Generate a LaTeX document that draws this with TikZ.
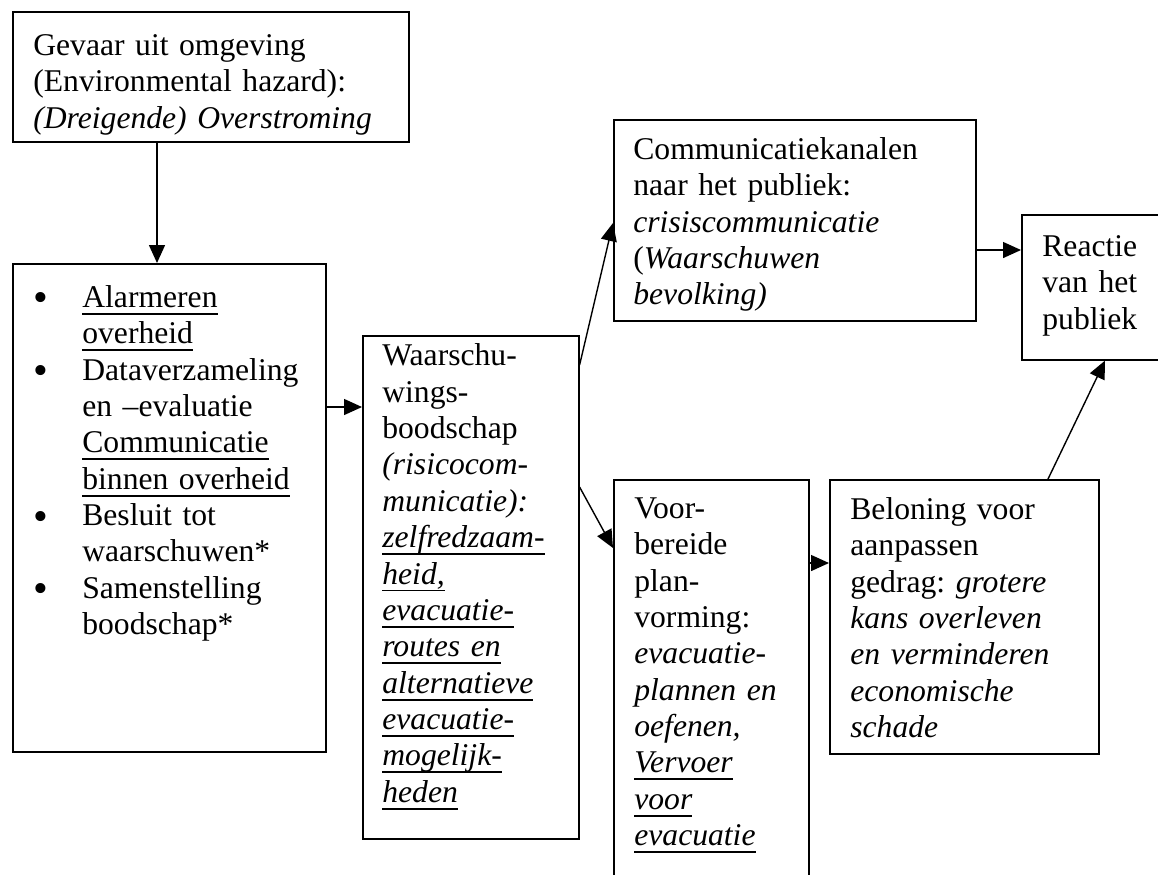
\documentclass[tikz,border=0pt]{standalone}
\usepackage{fontspec}
\setmainfont{Liberation Serif}
\usetikzlibrary{arrows.meta}
\frenchspacing
\newcommand{\bul}{\leavevmode\llap{\raisebox{-2.6pt}{\fontsize{24}{24}\selectfont\textbullet}\hspace{0.69cm}}}
\newcommand{\undl}[1]{\leavevmode\setbox0\hbox{#1}\rlap{\rule[-4.2pt]{\wd0}{1.1pt}}\box0}
\tikzset{
	box/.style={draw, line width=0.9pt, inner sep=0pt, anchor=north west},
	txt/.style={anchor=north west, inner sep=0pt, align=left, font=\fontsize{18}{20.7}\selectfont, execute at begin node=\strut},
	arr/.style={line width=0.8pt, -{Triangle[length=0.36cm,width=0.32cm]}}
}
\begin{document}
\begin{tikzpicture}
	\useasboundingbox (0,0) rectangle (23.16,-17.48);
	% boxes
	\node[box, minimum width=7.92cm, minimum height=2.60cm] (B1) at (0.24,-0.22) {};
	\node[box, minimum width=6.26cm, minimum height=9.76cm] (B2) at (0.24,-5.26) {};
	\node[box, minimum width=4.32cm, minimum height=10.06cm] (B3) at (7.24,-6.70) {};
	\node[box, minimum width=7.24cm, minimum height=4.02cm] (B4) at (12.26,-2.38) {};
	\node[box, minimum width=3.90cm, minimum height=8.60cm] (B5) at (12.26,-9.58) {};
	\node[box, minimum width=5.38cm, minimum height=5.48cm] (B6) at (16.58,-9.58) {};
	\node[box, minimum width=2.90cm, minimum height=2.90cm] (B7) at (20.42,-4.28) {};
	% texts
	\node[txt, text width=7.3cm] (T1) at ([shift={(0.42,-0.37)}]B1.north west) {Gevaar uit omgeving\\(Environmental hazard):\\\textit{(Dreigende) Overstroming}};
	\node[txt, text width=4.8cm] (T2) at ([shift={(1.40,-0.37)}]B2.north west) {\bul\undl{Alarmeren}\\\undl{overheid}\\\bul Dataverzameling\\en –evaluatie\\\undl{Communicatie}\\\undl{binnen overheid}\\\bul Besluit tot\\waarschuwen*\\\bul Samenstelling\\boodschap*};
	\node[txt, text width=3.9cm] (T3) at ([shift={(0.40,-0.10)}]B3.north west) {Waarschu-\\wings-\\boodschap\\\textit{(risicocom-}\\\textit{municatie):}\\\textit{\undl{zelfredzaam-}}\\\textit{\undl{heid,}}\\\textit{\undl{evacuatie-}}\\\textit{\undl{routes en}}\\\textit{\undl{alternatieve}}\\\textit{\undl{evacuatie-}}\\\textit{\undl{mogelijk-}}\\\textit{\undl{heden}}};
	\node[txt, text width=6.8cm] (T4) at ([shift={(0.40,-0.29)}]B4.north west) {Communicatiekanalen\\naar het publiek:\\\textit{crisiscommunicatie}\\(\textit{Waarschuwen}\\\textit{bevolking)}};
	\node[txt, text width=3.45cm] (T5) at ([shift={(0.42,-0.27)}]B5.north west) {Voor-\\bereide\\plan-\\vorming:\\\textit{evacuatie-}\\\textit{plannen en}\\\textit{oefenen,}\\\textit{\undl{Vervoer}}\\\textit{\undl{voor}}\\\textit{\undl{evacuatie}}};
	\node[txt, text width=4.9cm] (T6) at ([shift={(0.42,-0.29)}]B6.north west) {Beloning voor\\aanpassen\\gedrag: \textit{grotere}\\\textit{kans overleven}\\\textit{en verminderen}\\\textit{economische}\\\textit{schade}};
	\node[txt, text width=2.4cm] (T7) at ([shift={(0.42,-0.33)}]B7.north west) {Reactie\\van het\\publiek};
	% arrows
	\draw[arr] (3.14,0 |- B1.south) -- (3.14,0 |- B2.north);
	\draw[arr] (B2.east |- 0,-8.14) -- (B3.west |- 0,-8.14);
	\draw[arr] (B3.east |- 0,-7.30) -- (B4.west |- 0,-4.46);
	\draw[arr] (B3.east |- 0,-9.74) -- (B5.west |- 0,-10.96);
	\draw[arr] (B5.east |- 0,-11.26) -- (B6.west |- 0,-11.26);
	\draw[arr] (B4.east |- 0,-5.00) -- (B7.west |- 0,-5.00);
	\draw[arr] (20.96,0 |- B6.north) -- (22.10,0 |- B7.south);
\end{tikzpicture}
\end{document}
